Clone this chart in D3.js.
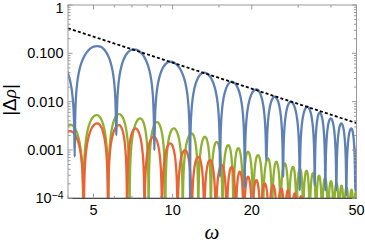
<!DOCTYPE html>
<html>
<head>
<meta charset="utf-8">
<script src="https://cdn.jsdelivr.net/npm/d3@7/dist/d3.min.js"></script>
<style>
  body { margin: 0; background: #fff; }
  text { font-family: "Liberation Sans", Arial, sans-serif; fill: #000; }
</style>
</head>
<body>
<svg id="chart" width="365" height="245"></svg>
<script>
// axes
const xDomain = [4, 50]
const yDomain = [1e-4, 1]
const xMajor = [5, 10, 20, 50]
const xMinor = [4, 6, 7, 8, 9, 15, 30, 40]
const yMajor = [1e-4, 1e-3, 1e-2, 1e-1, 1]
const yLabels = ['10', '0.001', '0.010', '0.100', '1']

// dotted envelope (straight in log-log)
const envW = [4, 50]
const envV = [0.33, 0.0036]

// blue curve: tops and bottoms of the arches
const blueDipW = [4.242, 6.107, 8.516, 11.64, 15.14, 18.79, 22.71, 26.28, 30.42, 34.69, 38.06, 41.91, 45.74, 49.49]
const blueDipV = [0.000723, 0.002034, 0.000995, 0.00008, 0.000279, 0.000173, 0.000618, 0.000279, 0.000148, 0.000188, 0.000148, 0.000148, 0.000117, 0.000148]
const bluePeakW = [3.477, 5.171, 7.110, 9.797, 13.16, 16.77, 20.80, 24.43, 28.11, 32.51, 36.24, 39.90, 43.78, 47.78, 51.56]
const bluePeakV = [0.086, 0.1416, 0.1210, 0.0670, 0.0397, 0.02582, 0.01798, 0.01263, 0.00995, 0.00784, 0.00589, 0.00451, 0.00355, 0.0028, 0.0022]

// green curve
const greenDipW = [3.62, 4.574, 5.692, 6.855, 8.100, 9.376, 10.92, 12.52, 13.97, 15.47, 17.01, 18.53, 20.21, 22.05, 23.88, 25.71, 27.64, 29.57, 31.35, 33.19, 35.09, 36.98, 38.96, 40.96, 42.90, 44.82, 46.83, 48.80]
const greenPeakW = [4.071, 5.143, 6.252, 7.534, 8.718, 10.09, 11.82, 13.27, 14.71, 16.28, 17.77, 19.34, 21.11, 23.05, 24.78, 26.67, 28.69, 30.50, 32.28, 34.17, 36.01, 37.96, 40.0, 41.98, 43.85, 45.81, 47.86, 49.80]
const greenPeakV = [0.003356, 0.00528, 0.00554, 0.00451, 0.00378, 0.0028, 0.002207, 0.001877, 0.001478, 0.001263, 0.001095, 0.000918, 0.000784, 0.00067, 0.00057, 0.000528, 0.000449, 0.000408, 0.000375, 0.000332, 0.000295, 0.000262, 0.000227, 0.000206, 0.000183, 0.000167, 0.000151, 0.000141]
const greenFloor = 1e-5

// orange curve
const orangeDipW = [3.62, 4.594, 5.677, 6.706, 7.815, 9.109, 10.44, 11.82, 13.18, 14.59, 16.05, 17.37, 18.66, 20.07, 21.58, 23.23, 24.97, 26.67, 28.28, 29.94, 31.57, 33.28, 35.09]
const orangePeakW = [4.071, 5.171, 6.252, 7.211, 8.470, 9.797, 11.14, 12.52, 13.87, 15.37, 16.77, 17.99, 19.34, 20.80, 22.38, 24.07, 25.89, 27.45, 29.11, 30.76, 32.42, 34.17, 36.01]
const orangePeakV = [0.00246, 0.003554, 0.003277, 0.0028, 0.001877, 0.00137, 0.000995, 0.000723, 0.000618, 0.000487, 0.000449, 0.000354, 0.000279, 0.000238, 0.000203, 0.000188, 0.00016, 0.000148, 0.000126, 0.000111, 0.0000989, 0.0000885, 0.00008]
const orangeFloor = 1e-5

// shape of one half arch (bottom -> top)
const archT = [0, 0.02, 0.05, 0.1, 0.2, 0.3, 0.4, 0.5, 0.6, 0.7, 0.8, 0.9, 1]
const archF = [0, 0.031, 0.078, 0.156, 0.309, 0.454, 0.588, 0.707, 0.809, 0.891, 0.951, 0.988, 1]

const margin = { top: 5, right: 8.5, bottom: 46.7, left: 68 }
const width = 365 - margin.left - margin.right
const height = 245 - margin.top - margin.bottom

const svg = d3.select('#chart')
const g = svg.append('g')
  .attr('transform', 'translate(' + margin.left + ',' + margin.top + ')')

const x = d3.scaleLog().domain(xDomain).range([0, width])
const y = d3.scaleLog().domain(yDomain).range([height, 0])

svg.append('defs').append('clipPath').attr('id', 'plot')
  .append('rect').attr('width', width).attr('height', height)

// turn the tops/bottoms into a list of points along the arches
function archPoints (dipW, dipV, peakW, peakV) {
  const ext = []
  dipW.forEach(function (w, i) { ext.push({ w: w, v: Array.isArray(dipV) ? dipV[i] : dipV, top: false }) })
  peakW.forEach(function (w, i) { ext.push({ w: w, v: peakV[i], top: true }) })
  ext.sort(function (a, b) { return a.w - b.w })
  const pts = [{ w: ext[0].w, v: ext[0].v }]
  for (let i = 1; i < ext.length; i++) {
    const a = ext[i - 1]
    const b = ext[i]
    const p = a.top ? a : b
    const d = a.top ? b : a
    for (let k = 1; k < archT.length; k++) {
      const j = a.top ? archT.length - 1 - k : k
      const t = archT[j]
      pts.push({
        w: d.w * Math.pow(p.w / d.w, t),
        v: Math.max(d.v, p.v * archF[j])
      })
    }
  }
  return pts
}

const line = d3.line()
  .x(function (d) { return x(d.w) })
  .y(function (d) { return y(d.v) })
  .curve(d3.curveMonotoneX)

const curves = g.append('g').attr('clip-path', 'url(#plot)')

const series = [
  { pts: archPoints(greenDipW, greenFloor, greenPeakW, greenPeakV), color: '#8FB131' },
  { pts: archPoints(orangeDipW, orangeFloor, orangePeakW, orangePeakV), color: '#EB6235' },
  { pts: archPoints(blueDipW, blueDipV, bluePeakW, bluePeakV), color: '#5E81B5' }
]
series.forEach(function (s) {
  curves.append('path')
    .attr('d', line(s.pts))
    .attr('fill', 'none')
    .attr('stroke', s.color)
    .attr('stroke-width', 2.3)
    .attr('stroke-linejoin', 'round')
})

curves.append('path')
  .attr('d', d3.line().x(function (d) { return x(d) }).y(function (d, i) { return y(envV[i]) })(envW))
  .attr('fill', 'none')
  .attr('stroke', '#000')
  .attr('stroke-width', 1.8)
  .attr('stroke-dasharray', '3,2.2')

// frame
const frame = '#999'
g.append('rect')
  .attr('width', width).attr('height', height)
  .attr('fill', 'none').attr('stroke', frame).attr('stroke-width', 1)
g.append('line')
  .attr('x1', 0).attr('x2', width).attr('y1', height).attr('y2', height)
  .attr('stroke', '#333').attr('stroke-width', 1)

// ticks on all four sides
function tick (x1, y1, x2, y2) {
  g.append('line').attr('x1', x1).attr('y1', y1).attr('x2', x2).attr('y2', y2)
    .attr('stroke', frame).attr('stroke-width', 1)
}
xMajor.forEach(function (v) { tick(x(v), height, x(v), height - 4.5); tick(x(v), 0, x(v), 4.5) })
xMinor.forEach(function (v) { tick(x(v), height, x(v), height - 2.5); tick(x(v), 0, x(v), 2.5) })
yMajor.forEach(function (v) { tick(0, y(v), 4.5, y(v)); tick(width, y(v), width - 4.5, y(v)) })
yMajor.slice(0, -1).forEach(function (v) {
  for (let m = 2; m <= 9; m++) {
    tick(0, y(v * m), 2.5, y(v * m)); tick(width, y(v * m), width - 2.5, y(v * m))
  }
})

// tick labels
xMajor.forEach(function (v) {
  g.append('text')
    .attr('x', x(v)).attr('y', height + 17)
    .attr('text-anchor', 'middle')
    .style('font-size', '14.5px')
    .text(v)
})
yMajor.forEach(function (v, i) {
  // the top label sits a little lower so that it stays inside the picture
  const t = g.append('text')
    .attr('x', -4.5).attr('y', i === yMajor.length - 1 ? y(v) + 7.5 : y(v) + 5)
    .attr('text-anchor', 'end')
    .style('font-size', '14.5px')
  if (i === 0) {
    t.append('tspan').text(yLabels[i])
    t.append('tspan').attr('dy', -4).style('font-size', '10.5px').text('\u22124')
  } else {
    t.text(yLabels[i])
  }
})

// axis titles
svg.append('text')
  .attr('x', 212).attr('y', 239)
  .attr('text-anchor', 'middle')
  .style('font-family', '"Liberation Serif", serif')
  .style('font-style', 'italic')
  .style('font-size', '21px')
  .text('\u03C9')

const yl = svg.append('text')
  .attr('transform', 'translate(16,100) rotate(-90)')
  .attr('text-anchor', 'middle')
  .style('font-size', '19px')
yl.append('tspan').text('|\u0394')
yl.append('tspan').style('font-family', '"Liberation Serif", serif').style('font-style', 'italic').text('\u03C1')
yl.append('tspan').text('|')
</script>
</body>
</html>
